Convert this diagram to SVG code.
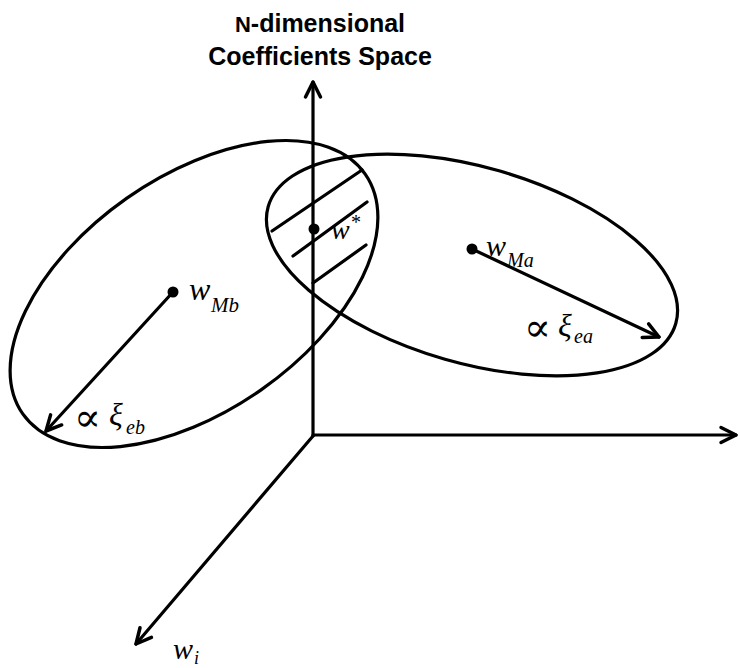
<svg xmlns="http://www.w3.org/2000/svg" width="740" height="668" viewBox="0 0 740 668">
<defs>
<style>
.ln{fill:none;stroke:#000;stroke-width:3.2;stroke-linecap:round;stroke-linejoin:round}
.it{font-family:"Liberation Serif","DejaVu Serif",serif;font-style:italic;fill:#000}
.sy{font-family:"Liberation Serif","DejaVu Serif",serif;fill:#000}
.pr{font-family:"DejaVu Serif","Liberation Serif",serif;fill:#000}
.ti{font-family:"Liberation Sans",Arial,sans-serif;font-weight:bold;font-size:25px;fill:#000;text-anchor:middle}
</style>
<marker id="ah" markerUnits="userSpaceOnUse" markerWidth="30" markerHeight="30" refX="0" refY="0" viewBox="-20 -15 30 30" orient="auto" overflow="visible">
<path d="M -15 -7.5 L 0 0 L -15 7.5" fill="none" stroke="#000" stroke-width="3.5" stroke-linecap="round" stroke-linejoin="round"/>
</marker>
</defs>
<rect width="740" height="668" fill="#fff"/>
<g id="title">
<text class="ti" x="320" y="32"><tspan font-size="22">N</tspan>-dimensional</text>
<text class="ti" x="320" y="65">Coefficients Space</text>
</g>
<g id="connectors">
<line class="ln" x1="313" y1="436" x2="313" y2="82" marker-end="url(#ah)"/>
<line class="ln" x1="313" y1="435" x2="736" y2="435" marker-end="url(#ah)"/>
<line class="ln" x1="313" y1="436" x2="136" y2="644" marker-end="url(#ah)"/>
<line class="ln" x1="173" y1="292" x2="46" y2="431" marker-end="url(#ah)"/>
<line class="ln" x1="472" y1="249" x2="659" y2="337" marker-end="url(#ah)"/>
</g>
<g id="ellipse-b">
<ellipse class="ln" cx="194" cy="294" rx="209" ry="117" transform="rotate(-35 194 294)"/>
</g>
<g id="ellipse-a">
<ellipse class="ln" cx="472" cy="265" rx="212" ry="98" transform="rotate(16 472 265)"/>
</g>
<g id="intersection">
<line class="ln" x1="272" y1="231" x2="362" y2="170"/>
<line class="ln" x1="293" y1="256" x2="367" y2="202"/>
<line class="ln" x1="313" y1="283" x2="366" y2="245"/>
</g>
<g id="w-star">
<circle cx="314" cy="229" r="5.5" fill="#000"/>
<text class="it" x="331" y="239" font-size="28">w</text>
<text class="sy" x="351" y="229" font-size="20">*</text>
</g>
<g id="w-mb">
<circle cx="173" cy="292" r="5.5" fill="#000"/>
<text class="it" x="189" y="300" font-size="32">w</text>
<text class="it" x="211" y="312" font-size="21">Mb</text>
<text class="pr" x="74" y="431" font-size="40">∝</text>
<text class="it" x="109" y="425" font-size="32">ξ</text>
<text class="it" x="126" y="434" font-size="20">eb</text>
</g>
<g id="w-ma">
<circle cx="472" cy="249" r="5.5" fill="#000"/>
<text class="it" x="486" y="256" font-size="30">w</text>
<text class="it" x="507" y="267" font-size="20">Ma</text>
<text class="pr" x="524" y="341" font-size="40">∝</text>
<text class="it" x="558" y="336" font-size="32">ξ</text>
<text class="it" x="574" y="343" font-size="20">ea</text>
</g>
<g id="w-i">
<text class="it" x="173" y="659" font-size="30">w</text>
<text class="it" x="194" y="664" font-size="18">i</text>
</g>
</svg>
